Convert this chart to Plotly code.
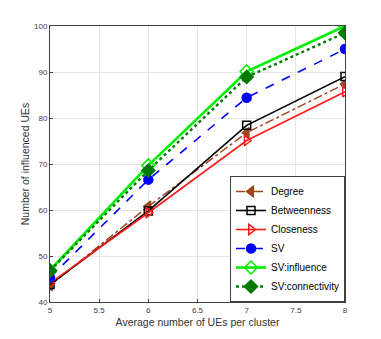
import plotly.graph_objects as go

# average number of UEs per cluster
ues_per_cluster = [5, 6, 7, 8]

# number of influenced UEs per method
degree = [43.6, 60.8, 76.8, 87.4]
betweenness = [43.8, 59.8, 78.4, 89.0]
closeness = [44.1, 59.4, 75.1, 85.7]
sv = [45.3, 66.6, 84.4, 95.0]
sv_influence = [46.9, 69.7, 90.1, 100.0]
sv_connectivity = [46.8, 68.6, 88.9, 98.5]

x_ticks = [5, 5.5, 6, 6.5, 7, 7.5, 8]
y_ticks = [40, 50, 60, 70, 80, 90, 100]

series = [
    ("Degree", degree, "#a0461e", "dashdot", "triangle-left", 1.5, 9),
    ("Betweenness", betweenness, "black", "solid", "square-open", 1.6, 8),
    ("Closeness", closeness, "#ff1a1a", "solid", "triangle-right-open", 1.6, 9),
    ("SV", sv, "#0000ff", "dash", "circle", 1.6, 9),
    ("SV:influence", sv_influence, "#00ee00", "solid", "diamond-open", 2.6, 10),
    ("SV:connectivity", sv_connectivity, "#007a00", "dot", "diamond", 2.4, 10),
]

fig = go.Figure()
for name, vals, color, dash, symbol, width, msize in series:
    fig.add_trace(go.Scatter(
        x=ues_per_cluster, y=vals, name=name, mode="lines+markers",
        line=dict(color=color, dash=dash, width=width),
        marker=dict(symbol=symbol, size=msize, color=color,
                    line=dict(color=color, width=1.5)),
    ))

axis_style = dict(
    showline=True, mirror=True, linecolor="#404040", linewidth=1,
    ticks="inside", ticklen=3, tickcolor="#404040",
    showgrid=True, gridcolor="#e6e6e6", gridwidth=1, zeroline=False,
    tickfont=dict(family="Liberation Sans, Arial", size=8, color="#404040"),
)

fig.update_xaxes(
    range=[5, 8], tickvals=x_ticks, ticktext=[str(t) for t in x_ticks],
    title=dict(text="Average number of UEs per cluster", standoff=5,
               font=dict(family="Liberation Sans, Arial", size=10.5, color="#333333")),
    **axis_style,
)
fig.update_yaxes(
    range=[40, 100], tickvals=y_ticks,
    title=dict(text="Number of influenced UEs", standoff=2,
               font=dict(family="Liberation Sans, Arial", size=10.5, color="#333333")),
    **axis_style,
)

# the page adds an 8px body margin, so the plot box is shifted accordingly
fig.update_layout(
    width=381, height=339,
    margin=dict(l=42, r=44, t=18, b=45),
    paper_bgcolor="white", plot_bgcolor="white",
    legend=dict(
        x=1, y=0, xanchor="right", yanchor="bottom",
        bgcolor="white", bordercolor="#404040", borderwidth=1,
        font=dict(family="Liberation Sans, Arial", size=10, color="black"),
        itemwidth=30, tracegroupgap=0,
    ),
)

fig.write_html("out.html")
